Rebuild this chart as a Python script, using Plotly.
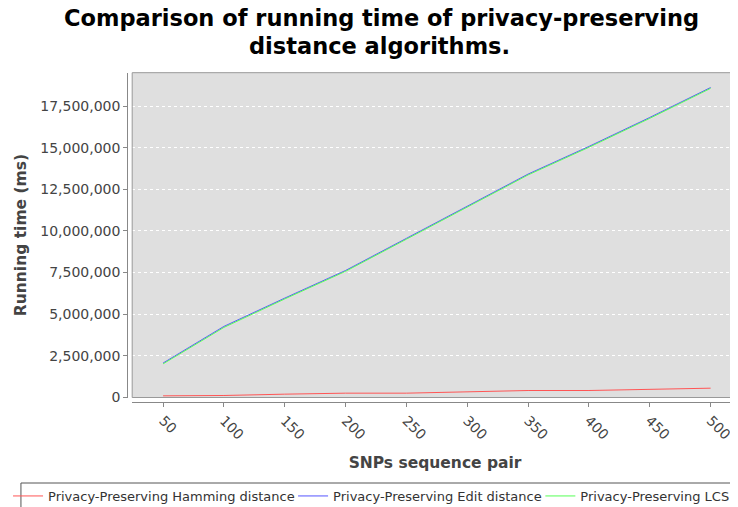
import plotly.graph_objects as go

pairs = [50, 100, 150, 200, 250, 300, 350, 400, 450, 500]
hamming = [90000, 110000, 190000, 250000, 250000, 330000, 410000, 410000, 490000, 550000]
edit = [2060000, 4260000, 5960000, 7620000, 9550000, 11470000, 13410000, 15070000, 16810000, 18610000]
lcs = [2010000, 4200000, 5910000, 7570000, 9500000, 11420000, 13360000, 15020000, 16760000, 18560000]

series_names = ["Privacy-Preserving Hamming distance",
                "Privacy-Preserving Edit distance",
                "Privacy-Preserving LCS"]
colors = ["#FF5555", "#5555FF", "#55FF55"]
title_lines = ["Comparison of running time of privacy-preserving", "distance algorithms."]

# the page body has a margin; positions below are given in window pixels
OFFX, OFFY = 10, 8
W, H = 738 - 8, 507
FONT = "DejaVu Sans"


def px(x):
    return (x - OFFX) / W


def py(y):
    return 1 - (y - OFFY) / H


legend_ids = ["legend", "legend2", "legend3"]
legend_text_x = [45, 332, 581]
legend_entry_w = [252, 215, 150]

fig = go.Figure()
for name, vals, col, lid in zip(series_names, [hamming, edit, lcs], colors, legend_ids):
    fig.add_trace(go.Scatter(x=pairs, y=vals, mode="lines", name=name, legend=lid,
                             line=dict(color=col, width=1)))

x0 = px(130)
ybot = py(397.5)
ytop = py(72.7)

annotations = [
    dict(text=title_lines[0], x=px(381), y=py(18), xref="paper", yref="paper",
         xanchor="center", yanchor="middle", showarrow=False,
         font=dict(family=FONT, size=22.5, color="black", weight="bold")),
    dict(text=title_lines[1], x=px(379), y=py(46), xref="paper", yref="paper",
         xanchor="center", yanchor="middle", showarrow=False,
         font=dict(family=FONT, size=22.5, color="black", weight="bold")),
]

legend_common = dict(orientation="h", xanchor="left", y=py(511), yanchor="bottom",
                     font=dict(size=13, color="#333333"), itemwidth=30,
                     bgcolor="rgba(0,0,0,0)", borderwidth=0, tracegroupgap=0)

layout_legends = {}
for lid, tx, ew in zip(legend_ids, legend_text_x, legend_entry_w):
    layout_legends[lid] = dict(legend_common, x=px(tx - 40), entrywidth=ew)

fig.update_layout(
    width=W, height=H,
    margin=dict(l=0, r=0, t=0, b=0),
    paper_bgcolor="white",
    plot_bgcolor="#DFDFDF",
    font=dict(family=FONT, size=14, color="#444444"),
    annotations=annotations,
    xaxis=dict(domain=[x0, 1], range=[24.6, 522.5], anchor="free",
               position=py(402),
               tickvals=pairs, tickangle=45, showgrid=False, zeroline=False,
               showline=True, linecolor="#888888", linewidth=1,
               ticks="outside", ticklen=4, tickcolor="#888888",
               tickfont=dict(size=14, color="#444444"),
               title=dict(text="SNPs sequence pair", standoff=15,
                          font=dict(size=15.5, color="#444444", weight="bold")),
               automargin=False),
    yaxis=dict(domain=[ybot, ytop], range=[-10000, 19500000], anchor="free",
               position=px(125),
               dtick=2500000, tick0=0, tickformat=",d",
               showgrid=True, gridcolor="white", griddash="3px,3px", gridwidth=1,
               zeroline=False,
               showline=True, linecolor="#888888", linewidth=1,
               ticks="outside", ticklen=4, tickcolor="#888888",
               tickfont=dict(size=14, color="#444444"),
               title=dict(text="Running time (ms)", standoff=8,
                          font=dict(size=15.5, color="#444444", weight="bold")),
               automargin=False),
    showlegend=True,
    shapes=[
        dict(type="rect", xref="paper", yref="paper", x0=x0, x1=1.01, y0=ybot, y1=ytop,
             line=dict(color="#999999", width=1), fillcolor="rgba(0,0,0,0)", layer="above"),
        dict(type="rect", xref="paper", yref="paper", x0=px(18), x1=1.01, y0=-0.02, y1=py(483),
             line=dict(color="#555555", width=1), fillcolor="rgba(0,0,0,0)"),
    ],
    **layout_legends,
)

fig.write_html("out.html")
